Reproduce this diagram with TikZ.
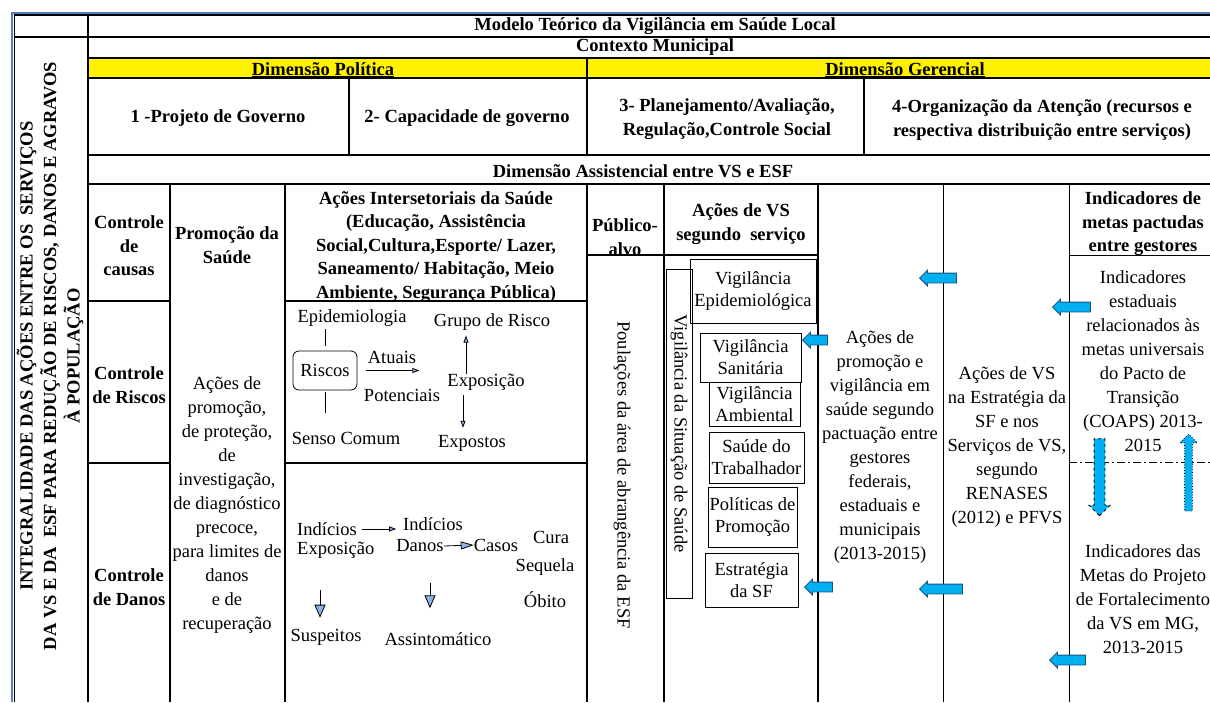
\documentclass[tikz,border=0pt]{standalone}
\usepackage{fontspec}
\setmainfont{Liberation Serif}
\usetikzlibrary{arrows.meta,shapes.arrows}
\definecolor{frameblue}{HTML}{4F81BD}
\definecolor{fillblue}{HTML}{00B0F0}
\definecolor{lineblue}{HTML}{1F4E79}
\definecolor{tipblue}{HTML}{8DB4E2}

\begin{document}
\begin{tikzpicture}[x=1pt,y=-1pt,
  every node/.style={inner sep=0pt,font=\fontsize{18.5}{23.5}\selectfont},
  grid/.style={line width=1.5pt},
  thingrid/.style={line width=1pt},
  head/.style={font=\fontsize{18.5}{23.5}\selectfont\bfseries,align=center},
  txt/.style={align=center,font=\fontsize{18.5}{24}\selectfont},
  vsbox/.style={draw,line width=0.8pt,align=center,font=\fontsize{18.5}{22}\selectfont},
  tiparr/.style={-{Triangle[length=7pt,width=5pt,fill=tipblue]},line width=0.8pt},
  bigarr/.style={-{Triangle[length=13pt,width=11pt,fill=tipblue]},line width=0.8pt},
  fatarr/.style={single arrow,draw=lineblue,fill=fillblue,line width=0.8pt,
    inner xsep=0pt,inner ysep=4.5pt,minimum width=0pt,
    single arrow head extend=3pt,shape border rotate=180}
]
\useasboundingbox (0,0) rectangle (1210,702);

\fill[yellow] (88,58) rectangle (1210,78);
\draw[frameblue,line width=2pt] (12,702) -- (12,12.5) -- (1210,12.5);
\draw[grid] (14.5,702) -- (14.5,15) -- (1210,15);
\draw[grid] (14.5,37) -- (1210,37);
\draw[grid] (88,15) -- (88,702);
\draw[grid] (88,58) -- (1210,58);
\draw[grid] (88,78) -- (1210,78);
\draw[grid] (587,58) -- (587,155);
\draw[grid] (349,78) -- (349,155);
\draw[grid] (864,78) -- (864,155);
\draw[grid] (88,155) -- (1210,155);
\draw[grid] (88,184) -- (1210,184);
\draw[grid] (170,184) -- (170,702);
\draw[grid] (285,184) -- (285,702);
\draw[grid] (587,184) -- (587,702);
\draw[grid] (664,184) -- (664,702);
\draw[grid] (818,184) -- (818,702);
\draw[thingrid] (943,184) -- (943,702);
\draw[thingrid] (1069,184) -- (1069,702);
\draw[grid] (587,255) -- (818,255);
\draw[thingrid] (1069,255) -- (1210,255);
\draw[grid] (88,301) -- (170,301);
\draw[grid] (285,301) -- (587,301);
\draw[grid] (88,463) -- (170,463);
\draw[grid] (285,463) -- (587,463);
\draw[thingrid,dash pattern=on 8pt off 3pt on 2pt off 3pt] (1069,462) -- (1210,462);

\node[head] (titulo) at (655,26) {Modelo Teórico da Vigilância em Saúde Local};
\node[head] (contexto) at (655,47) {Contexto Municipal};
\node[head,anchor=base] (dimpol) at (323,75) {\underline{Dimensão Política}};
\node[head,anchor=base] (dimger) at (905,75) {\underline{Dimensão Gerencial}};
\node[head] (projeto) at (218,118) {1 -Projeto de Governo};
\node[head] (capacidade) at (467,118) {2- Capacidade de governo};
\node[head] (planejamento) at (727,119) {3- Planejamento/Avaliação,\\Regulação,Controle Social};
\node[head] (organizacao) at (1042,120) {4-Organização da Atenção (recursos e\\respectiva distribuição entre serviços)};
\node[head] (assistencial) at (643,171) {Dimensão Assistencial entre VS e ESF};

\node[head,rotate=90] (integralidade) at (50,356) {INTEGRALIDADE DAS AÇÕES ENTRE OS\ \ SERVIÇOS\\DA VS E DA\ \ ESF PARA REDUÇÃO DE RISCOS, DANOS E AGRAVOS\\À POPULAÇÃO};

\node[head] (causas) at (129,246) {Controle\\de\\causas};
\node[head] (promocao) at (227,245) {Promoção da\\Saúde};
\node[head] (intersetoriais) at (436,247) {Ações Intersetoriais da Saúde\\(Educação, Assistência\\Social,Cultura,Esporte/ Lazer,\\Saneamento/ Habitação, Meio\\Ambiente, Segurança Pública)};
\node[head] (publico) at (625,237) {Público-\\alvo};
\node[head] (acoesvs) at (741,224) {Ações de VS\\segundo\ \ serviço};
\node[head] (metas) at (1143,224) {Indicadores de\\metas pactudas\\entre gestores};
\node[head] (ctriscos) at (129,385) {Controle\\de Riscos};
\node[head] (ctdanos) at (129,587) {Controle\\de Danos};

\node[txt] (acoespromo) at (227,505) {Ações de\\promoção,\\de proteção,\\de\\investigação,\\de diagnóstico\\precoce,\\para limites de\\danos\\e de\\recuperação};

% riscos
\node (epidemiologia) at (352,318) {Epidemiologia};
\node[draw,rounded corners=6pt,minimum width=64pt,minimum height=39pt,line width=0.8pt] (riscos) at (325,370.5) {Riscos};
\node (senso) at (346,438) {Senso Comum};
\node (atuais) at (392,357) {Atuais};
\node (potenciais) at (402,395) {Potenciais};
\node (exposicao) at (486,382) {Exposição};
\node (grupo) at (492,322) {Grupo de Risco};
\node (expostos) at (472,443) {Expostos};

\draw[line width=0.8pt,shorten <=5pt,shorten >=2pt] (riscos.north) -- (riscos.north |- epidemiologia.south);
\draw[line width=0.8pt,shorten <=2pt,shorten >=19pt] (riscos.south) -- (riscos.south |- senso.north);
\draw[tiparr,shorten <=9pt,shorten >=28pt] (riscos.east) -- (riscos.east -| exposicao.west);
\draw[tiparr,shorten >=5pt] ([xshift=-20pt]exposicao.north) -- ([xshift=-20pt]exposicao.north |- grupo.south);
\draw[tiparr,shorten <=5pt,shorten >=7pt] ([xshift=-23pt]exposicao.south) -- ([xshift=-23pt]exposicao.south |- expostos.north);

% danos
\node[anchor=west] (indexp) at (297,529) {Indícios};
\node[anchor=west] (exposicao2) at (297,550) {Exposição};
\node (inddan) at (433,524) {Indícios};
\node (danos) at (420,546) {Danos};
\node (casos) at (496,545) {Casos};
\node (cura) at (551,537) {Cura};
\node (sequela) at (545,567) {Sequela};
\node (obito) at (545,600) {Óbito};
\node (suspeitos) at (326,637) {Suspeitos};
\node (assintomatico) at (438,639) {Assintomático};

\draw[tiparr,shorten <=5pt] (indexp.east) -- (indexp.east -| danos.west);
\draw[-{Triangle[length=13pt,width=8pt,fill=tipblue]},line width=0.8pt] (danos.east) -- (casos.west);
\draw[bigarr,shorten <=32pt,shorten >=11pt] ([xshift=-6pt]suspeitos.north |- exposicao2.south) -- ([xshift=-6pt]suspeitos.north);
\draw[bigarr,shorten <=31pt,shorten >=24pt] ([xshift=-8pt]assintomatico.north |- danos.south) -- ([xshift=-8pt]assintomatico.north);

\node[rotate=-90] (populacoes) at (622,475) {Poulações da área de abrangência da ESF};

% servicos de VS
\node[draw,rotate=-90,minimum width=329pt,minimum height=26pt,line width=0.8pt] (situacao) at (679,433.5) {Vigilância da Situação de Saúde};
\node[vsbox,minimum width=126pt,minimum height=64pt] (vepi) at (753,291) {Vigilância\\Epidemiológica};
\node[vsbox,minimum width=101pt,minimum height=49pt] (vsan) at (750.5,357.5) {Vigilância\\Sanitária};
\node[vsbox,minimum width=91pt,minimum height=44pt] (vamb) at (754.5,404) {Vigilância\\Ambiental};
\node[vsbox,minimum width=95pt,minimum height=51pt] (strab) at (756.5,457.5) {Saúde do\\Trabalhador};
\node[vsbox,minimum width=89pt,minimum height=60pt] (politicas) at (752.5,517) {Políticas de\\Promoção};
\node[vsbox,minimum width=93pt,minimum height=54pt] (esf) at (751.5,580) {Estratégia\\da SF};

\node[txt] (pactuacao) at (880,447) {Ações de\\promoção e\\vigilância em\\saúde segundo\\pactuação entre\\gestores\\federais,\\estaduais e\\municipais\\(2013-2015)};
\node[txt] (renases) at (1007,447) {Ações de VS\\na Estratégia da\\SF e nos\\Serviços de VS,\\segundo\\RENASES\\(2012) e PFVS};
\node[txt] (coaps) at (1143,361) {Indicadores\\estaduais\\relacionados às\\metas universais\\do Pacto de\\Transição\\(COAPS) 2013-\\2015};
\node[txt] (fortalecimento) at (1143,599.5) {Indicadores das\\Metas do Projeto\\de Fortalecimento\\da VS em MG,\\2013-2015};

% setas
\node[fatarr,minimum height=25pt] (seta1) at (817.5,340) {};
\node[fatarr,minimum height=28pt] (seta2) at (821,587) {};
\node[fatarr,minimum height=37pt] (seta3) at (940.5,278) {};
\node[fatarr,minimum height=43pt] (seta4) at (943.5,589) {};
\node[fatarr,minimum height=38pt] (seta5) at (1074,307) {};
\node[fatarr,minimum height=36pt] (seta6) at (1070,660) {};
\node[fatarr,draw=black,dashed,shape border rotate=270,minimum height=77pt,inner xsep=5pt,inner ysep=0pt,single arrow head extend=5pt] (desce) at (1099.5,474.5) {};
\node[fatarr,draw=black,dotted,shape border rotate=90,minimum height=77pt,inner xsep=3.5pt,inner ysep=0pt,single arrow head extend=5pt] (sobe) at (1188.5,474.5) {};

\end{tikzpicture}
\end{document}
